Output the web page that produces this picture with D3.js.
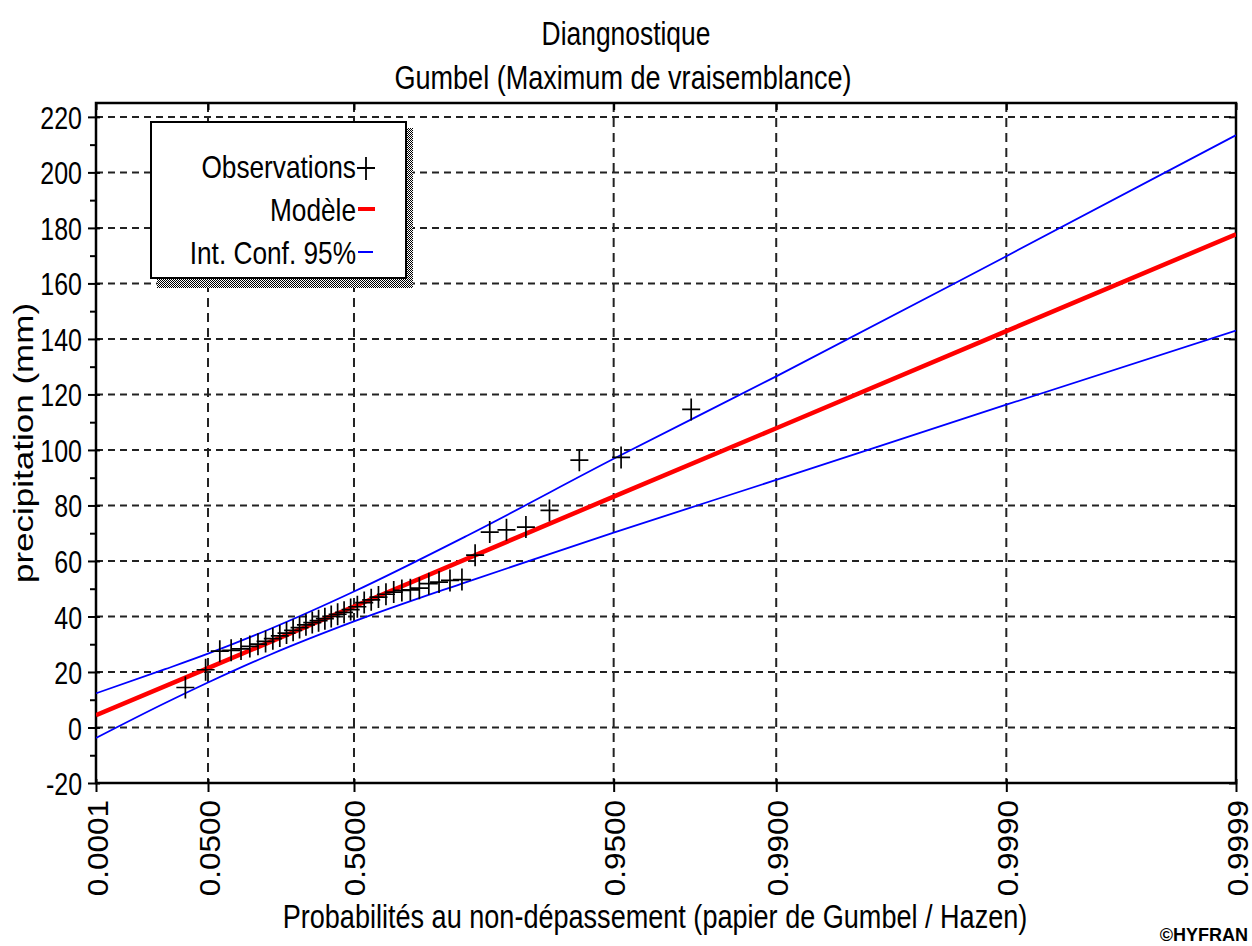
<!DOCTYPE html>
<html>
<head>
<meta charset="utf-8">
<script src="https://cdn.jsdelivr.net/npm/d3@7"></script>
<style>
  body { margin: 0; background: #fff; }
  svg { display: block; }
  text { font-family: "Liberation Sans", Arial, sans-serif; fill: #000; }
</style>
</head>
<body>
<div id="content"></div>
<script>
// Axis ticks.
var xTickProbs = [0.0001, 0.05, 0.5, 0.95, 0.99, 0.999, 0.9999];
var xTickLabels = ['0.0001', '0.0500', '0.5000', '0.9500', '0.9900', '0.9990', '0.9999'];
var yTicks = [-20, 0, 20, 40, 60, 80, 100, 120, 140, 160, 180, 200, 220];
var yMinorTicks = [-10, 10, 30, 50, 70, 90, 110, 130, 150, 170, 190, 210];

// Observations (non-exceedance probability, precipitation mm).
var obsProb = [0.0233, 0.0465, 0.0698, 0.0930, 0.1163, 0.1395, 0.1628, 0.1860,
               0.2093, 0.2326, 0.2558, 0.2791, 0.3023, 0.3256, 0.3488, 0.3721,
               0.3953, 0.4186, 0.4419, 0.4651, 0.4884, 0.5116, 0.5349, 0.5581,
               0.5814, 0.6047, 0.6279, 0.6512, 0.6744, 0.6977, 0.7209, 0.7442,
               0.7674, 0.7907, 0.8140, 0.8372, 0.8605, 0.8837, 0.9070, 0.9302,
               0.9535, 0.9767];
var obsVal = [14.4, 20.8, 27.5, 27.8, 28.3, 29.2, 30.0, 31.0,
              32.0, 33.0, 34.0, 35.0, 36.0, 37.0, 37.8, 38.5,
              39.2, 40.0, 40.8, 41.5, 42.5, 43.5, 45.0, 46.0,
              47.0, 48.0, 48.8, 49.4, 49.6, 50.2, 51.8, 52.4,
              53.0, 53.3, 62.1, 70.4, 71.2, 72.2, 78.2, 96.3,
              97.3, 114.6];

// Fitted model (Gumbel, maximum likelihood).
var modelProb = [0.0001, 0.05, 0.5, 0.95, 0.99, 0.999, 0.9999];
var modelVal = [4.4, 21.4, 43.6, 83.2, 107.8, 142.8, 177.7];

// 95% confidence interval.
var ciProb = [0.0001, 0.01, 0.05, 0.2, 0.5, 0.8, 0.95, 0.99, 0.999, 0.9999];
var ciUpper = [12.3, 21.0, 26.6, 35.5, 49.0, 69.1, 96.8, 126.5, 169.8, 213.4];
var ciLower = [-3.8, 8.8, 16.2, 26.2, 38.2, 52.5, 70.2, 89.2, 116.3, 143.0];

// SVG Dimensions.
var W = 1252, H = 946;
var margin = {left : 96, right : 16, top : 103, bottom : 163};
var width = W - margin.left - margin.right;
var height = H - margin.top - margin.bottom;

// Gumbel reduced variate (probability paper).
function gumbel(p) { return -Math.log(-Math.log(p)); }

// Squeeze / stretch a text along its run, like the original narrow rendering.
function squeeze(sel, k) {
  sel.each(function() {
    var n = this.getComputedTextLength();
    d3.select(this).attr('textLength', n * k).attr('lengthAdjust', 'spacingAndGlyphs');
  });
}

var svg = d3.select('#content')
              .append('svg')
              .attr('width', W)
              .attr('height', H);

svg.append('defs').append('pattern')
    .attr('id', 'dither')
    .attr('width', 2).attr('height', 2)
    .attr('patternUnits', 'userSpaceOnUse')
    .call(function(p) {
      p.append('rect').attr('width', 2).attr('height', 2).attr('fill', '#fff');
      p.append('rect').attr('x', 0).attr('y', 0).attr('width', 1).attr('height', 1).attr('fill', '#000');
      p.append('rect').attr('x', 1).attr('y', 1).attr('width', 1).attr('height', 1).attr('fill', '#000');
    });

svg.select('defs').append('clipPath').attr('id', 'plotclip')
    .append('rect').attr('width', width).attr('height', height);

var g = svg.append('g').attr('transform', 'translate(' + margin.left + ',' + margin.top + ')');

// Scales.
var xScale = d3.scaleLinear()
                 .domain([ gumbel(xTickProbs[0]), gumbel(xTickProbs[xTickProbs.length - 1]) ])
                 .range([ 0, width ]);
function xp(p) { return xScale(gumbel(p)); }

var yScale = d3.scaleLinear().domain([ -20, 225 ]).range([ height, 0 ]);

var xTickU = xTickProbs.map(gumbel);

// Grid.
g.append('g').selectAll('line')
    .data(yTicks.slice(1))
    .enter().append('line')
    .attr('x1', 0).attr('x2', width)
    .attr('y1', function(d) { return yScale(d); })
    .attr('y2', function(d) { return yScale(d); })
    .attr('stroke', '#222').attr('stroke-width', 2)
    .attr('stroke-dasharray', '7,5');

g.append('g').selectAll('line')
    .data(xTickU.slice(1, -1))
    .enter().append('line')
    .attr('x1', function(d) { return xScale(d); })
    .attr('x2', function(d) { return xScale(d); })
    .attr('y1', 0).attr('y2', height)
    .attr('stroke', '#222').attr('stroke-width', 2)
    .attr('stroke-dasharray', '9,6');

// Axes.
var yAxis = g.append('g')
    .call(d3.axisLeft(yScale).tickValues(yTicks).tickSize(8).tickSizeOuter(0).tickPadding(6)
            .tickFormat(function(d) { return String(d); }));
yAxis.selectAll('text')
    .attr('font-size', 32)
    .attr('dy', '0.36em')
    .attr('fill', '#000')
    .call(squeeze, 0.78);

g.append('g').call(d3.axisLeft(yScale).tickValues(yMinorTicks).tickSize(6).tickSizeOuter(0).tickFormat(''));
g.append('g').call(d3.axisLeft(yScale).tickValues(yTicks).tickSize(-4).tickSizeOuter(0).tickFormat(''));
g.append('g').attr('transform', 'translate(' + width + ',0)')
    .call(d3.axisRight(yScale).tickValues(yTicks).tickSize(-7).tickSizeOuter(0).tickFormat(''));

var xAxis = g.append('g')
    .attr('transform', 'translate(0,' + height + ')')
    .call(d3.axisBottom(xScale).tickValues(xTickU).tickSize(9).tickSizeOuter(0)
            .tickFormat(function(d, i) { return xTickLabels[i]; }));
xAxis.selectAll('text')
    .attr('font-size', 30)
    .attr('transform', 'rotate(-90)')
    .attr('text-anchor', 'end')
    .attr('x', -17).attr('y', 11).attr('dy', 0)
    .attr('fill', '#000')
    .call(squeeze, 1.05);

g.append('g').attr('transform', 'translate(0,' + height + ')')
    .call(d3.axisBottom(xScale).tickValues(xTickU).tickSize(-4).tickSizeOuter(0).tickFormat(''));
g.append('g')
    .call(d3.axisTop(xScale).tickValues(xTickU).tickSize(-7).tickSizeOuter(0).tickFormat(''));

g.selectAll('.domain').remove();
g.selectAll('.tick line').attr('stroke', '#000').attr('stroke-width', 2);

// Frame.
g.append('rect')
    .attr('width', width).attr('height', height)
    .attr('fill', 'none').attr('stroke', '#000').attr('stroke-width', 2.5);

// Series.
var plot = g.append('g').attr('clip-path', 'url(#plotclip)');

var ciLine = d3.line()
    .x(function(d) { return xp(d[0]); })
    .y(function(d) { return yScale(d[1]); })
    .curve(d3.curveMonotoneX);

[ciUpper, ciLower].forEach(function(vals) {
  plot.append('path')
      .datum(ciProb.map(function(p, i) { return [p, vals[i]]; }))
      .attr('fill', 'none')
      .attr('stroke', '#0000ff')
      .attr('stroke-width', 1.8)
      .attr('d', ciLine);
});

plot.append('path')
    .datum(modelProb.map(function(p, i) { return [p, modelVal[i]]; }))
    .attr('fill', 'none')
    .attr('stroke', '#ff0000')
    .attr('stroke-width', 4.5)
    .attr('d', d3.line()
                   .x(function(d) { return xp(d[0]); })
                   .y(function(d) { return yScale(d[1]); }));

plot.append('g').selectAll('path')
    .data(obsVal)
    .enter().append('path')
    .attr('d', function(d, i) {
      var cx = xp(obsProb[i]), cy = yScale(d);
      return 'M' + (cx - 9) + ',' + cy + 'H' + (cx + 9) + 'M' + cx + ',' + (cy - 11) + 'V' + (cy + 11);
    })
    .attr('stroke', '#000')
    .attr('stroke-width', 1.7)
    .attr('fill', 'none');

// Titles.
svg.append('text').attr('x', 626).attr('y', 45).attr('text-anchor', 'middle')
    .attr('font-size', 33).text('Diangnostique').call(squeeze, 0.8);
svg.append('text').attr('x', 623).attr('y', 89).attr('text-anchor', 'middle')
    .attr('font-size', 33).text('Gumbel (Maximum de vraisemblance)').call(squeeze, 0.82);

svg.append('text')
    .attr('transform', 'translate(33,' + 443 + ') rotate(-90)')
    .attr('text-anchor', 'middle')
    .attr('font-size', 28)
    .text('precipitation (mm)').call(squeeze, 1.25);

svg.append('text').attr('x', 655).attr('y', 928).attr('text-anchor', 'middle')
    .attr('font-size', 33)
    .text('Probabilités au non-dépassement (papier de Gumbel / Hazen)').call(squeeze, 0.82);

svg.append('text').attr('x', 1248).attr('y', 941).attr('text-anchor', 'end')
    .attr('font-size', 18).attr('font-weight', 'bold')
    .text('©HYFRAN');

// Legend.
var leg = svg.append('g');
leg.append('rect').attr('x', 157).attr('y', 128).attr('width', 256).attr('height', 160)
    .attr('fill', 'url(#dither)');
leg.append('rect').attr('x', 151).attr('y', 122).attr('width', 255).attr('height', 156)
    .attr('fill', '#fff').attr('stroke', '#000').attr('stroke-width', 2);

var legLabels = ['Observations', 'Modèle', 'Int. Conf. 95%'];
var legBase = [178, 221, 263.5];
leg.selectAll('text.lab')
    .data(legLabels)
    .enter().append('text')
    .attr('x', 356)
    .attr('y', function(d, i) { return legBase[i]; })
    .attr('text-anchor', 'end')
    .attr('font-size', 32)
    .text(function(d) { return d; })
    .call(squeeze, 0.82);

leg.append('path').attr('d', 'M357,168H375M366,157V180')
    .attr('stroke', '#000').attr('stroke-width', 1.8);
leg.append('line').attr('x1', 358).attr('x2', 375).attr('y1', 209).attr('y2', 209)
    .attr('stroke', '#ff0000').attr('stroke-width', 4);
leg.append('line').attr('x1', 358).attr('x2', 373).attr('y1', 252).attr('y2', 252)
    .attr('stroke', '#0000ff').attr('stroke-width', 2);
</script>
</body>
</html>
